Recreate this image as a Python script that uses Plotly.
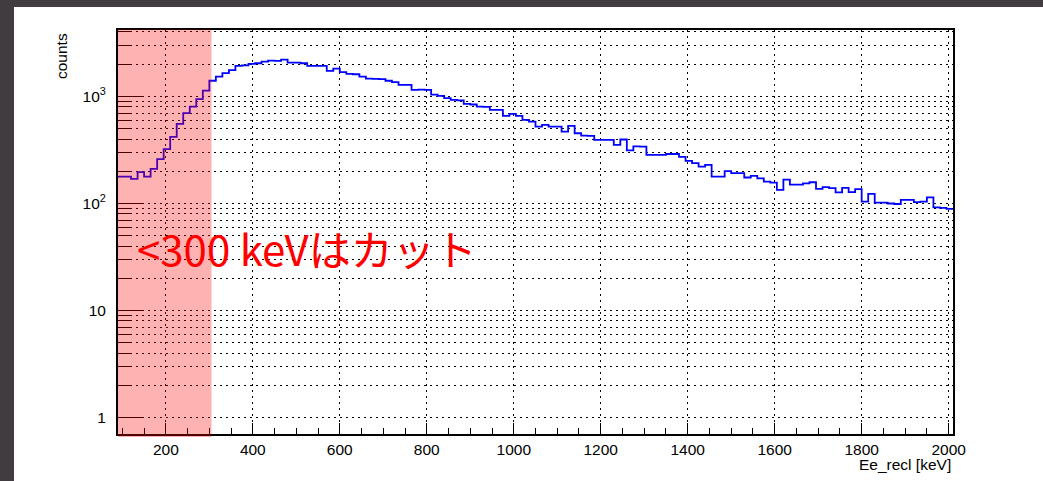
import plotly.graph_objects as go

# ---------------- data ----------------
bin_start = 90      # keV, first bin low edge
bin_width = 15      # keV
counts = [
    178, 178, 170, 196, 178, 211, 260, 322, 419, 553,
    697, 804, 942, 1133, 1400, 1530, 1650, 1760, 1928, 1950,
    2010, 2040, 2114, 2160, 2144, 2208, 2070, 2070, 2040, 1928,
    1928, 1928, 1730, 1820, 1682, 1622, 1610, 1530, 1466, 1456,
    1447, 1400, 1360, 1280, 1280, 1150, 1158, 1150, 1040, 1010,
    962, 927, 920, 851, 840, 804, 800, 748, 748, 658,
    687, 658, 604, 582, 522, 542, 522, 522, 469, 530,
    453, 430, 428, 393, 393, 393, 353, 396, 313, 342,
    340, 284, 284, 284, 290, 290, 272, 250, 238, 221,
    229, 178, 178, 201, 192, 192, 175, 181, 172, 160,
    157, 134, 167, 150, 150, 154, 158, 137, 142, 139,
    127, 140, 128, 136, 104, 123, 102, 102, 100, 99,
    108, 108, 103, 104, 114, 92, 91, 89,
]
x_major_ticks = [200, 400, 600, 800, 1000, 1200, 1400, 1600, 1800, 2000]
x_minor_ticks = [v for v in range(100, 2001, 50) if v not in x_major_ticks]
y_major_ticks = [1, 10, 100, 1000]
y_major_text = ["1", "10", "10<sup>2</sup>", "10<sup>3</sup>"]
y_minor_ticks = [m * d for d in (1, 10, 100, 1000) for m in range(2, 10) if m * d <= 4000]
x_range = [90, 2010]
y_log_range = [-0.152, 3.620]
cut_kev = 305
cut_label = "<300 keVはカット"
x_title = "Ee_recl [keV]"
y_title = "counts"

# ---------------- geometry ----------------
W, H = 1043, 481
ML, MR, MT, MB = 118, 90, 30, 47
PW, PH = W - ML - MR, H - MT - MB

def px_x(p):
    return (p - ML) / PW

def px_y(p):
    return (H - MB - p) / PH

edges = [bin_start + bin_width * i for i in range(len(counts) + 1)]
yvals = counts + [counts[-1]]

fig = go.Figure()
fig.add_trace(go.Scatter(
    x=edges, y=yvals, mode="lines",
    line=dict(color="#0000ff", width=1.8, shape="hv"),
    hoverinfo="skip", showlegend=False,
))

grid_dash = "2px,4px"
axis_font = dict(family="Liberation Sans, Arial, sans-serif", size=15.5, color="black")

fig.update_layout(
    width=W, height=H,
    margin=dict(l=ML, r=MR, t=MT, b=MB, pad=0),
    paper_bgcolor="white", plot_bgcolor="white",
    showlegend=False,
    xaxis=dict(
        range=x_range, type="linear",
        tickmode="array", tickvals=x_major_ticks,
        ticks="inside", ticklen=11, tickwidth=1, tickcolor="black",
        showline=True, linewidth=2, linecolor="black", mirror=True,
        showgrid=True, gridcolor="black", gridwidth=1, griddash=grid_dash,
        zeroline=False, tickfont=axis_font, ticklabelstandoff=0,
        minor=dict(tickmode="array", tickvals=x_minor_ticks, ticks="inside",
                   ticklen=6, tickwidth=1, tickcolor="black", showgrid=False),
    ),
    yaxis=dict(
        type="log", range=y_log_range,
        tickmode="array", tickvals=y_major_ticks, ticktext=y_major_text,
        ticks="inside", ticklen=25, tickwidth=1, tickcolor="black",
        showline=True, linewidth=2, linecolor="black", mirror=True,
        showgrid=True, gridcolor="black", gridwidth=1, griddash=grid_dash,
        zeroline=False, tickfont=axis_font, ticklabelstandoff=7,
        minor=dict(tickmode="array", tickvals=y_minor_ticks, ticks="inside",
                   ticklen=13, tickwidth=1, tickcolor="black",
                   showgrid=True, gridcolor="black", gridwidth=1, griddash=grid_dash),
    ),
)

shapes = [
    # translucent red cut region
    dict(type="rect", xref="x", yref="paper", x0=x_range[0] - 1.5, x1=cut_kev,
         y0=px_y(437), y1=px_y(29.5), fillcolor="rgba(255,0,0,0.3)",
         line=dict(width=0), layer="above"),
    # dark slide border (top & left)
    dict(type="rect", xref="paper", yref="paper", x0=px_x(0), x1=px_x(W),
         y0=px_y(7), y1=px_y(0), fillcolor="#403c40", line=dict(width=0), layer="above"),
    dict(type="rect", xref="paper", yref="paper", x0=px_x(0), x1=px_x(14),
         y0=px_y(H), y1=px_y(0), fillcolor="#403c40", line=dict(width=0), layer="above"),
]
fig.update_layout(shapes=shapes)

fig.add_annotation(
    text=cut_label, xref="paper", yref="paper", x=px_x(135), y=px_y(247),
    xanchor="left", yanchor="middle", showarrow=False,
    font=dict(family="Noto Sans CJK JP, sans-serif", size=42, color="#ff0000"),
)
fig.add_annotation(
    text=y_title, xref="paper", yref="paper", x=px_x(61), y=px_y(31),
    xanchor="center", yanchor="top", textangle=-90, showarrow=False,
    font=axis_font,
)
fig.add_annotation(
    text=x_title, xref="paper", yref="paper", x=px_x(953), y=px_y(464),
    xanchor="right", yanchor="middle", showarrow=False,
    font=axis_font,
)

fig.write_html("out.html")
